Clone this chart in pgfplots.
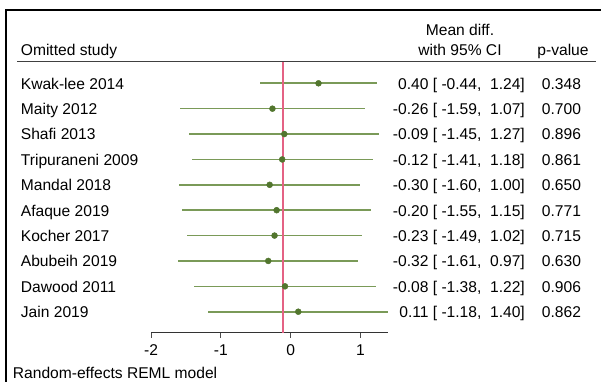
\documentclass[border=0pt]{standalone}
\usepackage{fontspec}
\setmainfont{Liberation Sans}
\usepackage{pgfplots}
\usepackage{pgfplotstable}
\pgfplotsset{compat=1.18}
\definecolor{cigreen}{RGB}{122,154,88}
\definecolor{dotgreen}{RGB}{82,118,46}
\definecolor{reflineRed}{RGB}{228,98,132}
\pgfplotstableread{
row est lo hi
-1 0.40 -0.44 1.24
-2 -0.26 -1.59 1.07
-3 -0.09 -1.45 1.27
-4 -0.12 -1.41 1.18
-5 -0.30 -1.60 1.00
-6 -0.20 -1.55 1.15
-7 -0.23 -1.49 1.02
-8 -0.32 -1.61 0.97
-9 -0.08 -1.38 1.22
-10 0.11 -1.18 1.40
}\data
\begin{document}
\begin{tikzpicture}[font=\fontsize{15.6bp}{18bp}\selectfont]
\useasboundingbox (0,0) rectangle (601bp,-382bp);
% frame
\draw[line width=2bp, black] (6bp,-382bp) -- (6bp,-10bp) -- (601bp,-10bp);
% header rule
\draw[line width=1.3bp, black!75] (17bp,-61.7bp) -- (596bp,-61.7bp);
\begin{axis}[
  at={(151bp,-332.7bp)}, anchor=south west,
  scale only axis, width=237.3bp, height=270.7bp,
  xmin=-2, xmax=1.4, ymin=-10.827, ymax=-0.161,
  axis x line*=bottom, axis y line=none,
  xtick={-2,-1,0,1}, xticklabels={-2,-1,0,1},
  ytick=\empty,
  tick align=outside, major tick length=5bp,
  x axis line style={line width=1.2bp, black!80},
  xtick style={line width=1bp, black!70},
  xticklabel style={anchor=base, inner sep=0pt, yshift=-17.5bp},
  clip=false,
]
\addplot[only marks, mark=none,
  error bars/.cd, x dir=both, x explicit, error mark=none,
  error bar style={line width=1.6bp, color=cigreen}]
  table[x=est, y=row,
    x error plus expr=\thisrow{hi}-\thisrow{est},
    x error minus expr=\thisrow{est}-\thisrow{lo}] {\data};
\addplot[reflineRed, line width=1.3bp] coordinates {(-0.11,-0.161) (-0.11,-10.827)};
\addplot[only marks, mark=*, mark size=3bp, mark options={fill=dotgreen, draw=dotgreen}]
  table[x=est, y=row] {\data};
\end{axis}
% headers
\node[anchor=base west, inner sep=0] at (20.7bp,-55.7bp) {Omitted study};
\node[anchor=base, inner sep=0] at (460bp,-35bp) {Mean diff.};
\node[anchor=base, inner sep=0] at (460bp,-55.5bp) {with 95\% CI};
\node[anchor=base, inner sep=0] at (563bp,-55.5bp) {p-value};
% study labels
\node[anchor=base west, inner sep=0] at (20.7bp,-89.1bp) {Kwak-lee 2014};
\node[anchor=base west, inner sep=0] at (20.7bp,-114.5bp) {Maity 2012};
\node[anchor=base west, inner sep=0] at (20.7bp,-139.9bp) {Shafi 2013};
\node[anchor=base west, inner sep=0] at (20.7bp,-165.2bp) {Tripuraneni 2009};
\node[anchor=base west, inner sep=0] at (20.7bp,-190.6bp) {Mandal 2018};
\node[anchor=base west, inner sep=0] at (20.7bp,-216.0bp) {Afaque 2019};
\node[anchor=base west, inner sep=0] at (20.7bp,-241.4bp) {Kocher 2017};
\node[anchor=base west, inner sep=0] at (20.7bp,-266.8bp) {Abubeih 2019};
\node[anchor=base west, inner sep=0] at (20.7bp,-292.1bp) {Dawood 2011};
\node[anchor=base west, inner sep=0] at (20.7bp,-317.5bp) {Jain 2019};
% estimates
\node[anchor=base east, inner sep=0] at (525bp,-89.1bp) {0.40 [\ -0.44,\ \ 1.24]};
\node[anchor=base east, inner sep=0] at (525bp,-114.5bp) {-0.26 [\ -1.59,\ \ 1.07]};
\node[anchor=base east, inner sep=0] at (525bp,-139.9bp) {-0.09 [\ -1.45,\ \ 1.27]};
\node[anchor=base east, inner sep=0] at (525bp,-165.2bp) {-0.12 [\ -1.41,\ \ 1.18]};
\node[anchor=base east, inner sep=0] at (525bp,-190.6bp) {-0.30 [\ -1.60,\ \ 1.00]};
\node[anchor=base east, inner sep=0] at (525bp,-216.0bp) {-0.20 [\ -1.55,\ \ 1.15]};
\node[anchor=base east, inner sep=0] at (525bp,-241.4bp) {-0.23 [\ -1.49,\ \ 1.02]};
\node[anchor=base east, inner sep=0] at (525bp,-266.8bp) {-0.32 [\ -1.61,\ \ 0.97]};
\node[anchor=base east, inner sep=0] at (525bp,-292.1bp) {-0.08 [\ -1.38,\ \ 1.22]};
\node[anchor=base east, inner sep=0] at (525bp,-317.5bp) {0.11 [\ -1.18,\ \ 1.40]};
% p-values
\node[anchor=base west, inner sep=0] at (541.7bp,-89.1bp) {0.348};
\node[anchor=base west, inner sep=0] at (541.7bp,-114.5bp) {0.700};
\node[anchor=base west, inner sep=0] at (541.7bp,-139.9bp) {0.896};
\node[anchor=base west, inner sep=0] at (541.7bp,-165.2bp) {0.861};
\node[anchor=base west, inner sep=0] at (541.7bp,-190.6bp) {0.650};
\node[anchor=base west, inner sep=0] at (541.7bp,-216.0bp) {0.771};
\node[anchor=base west, inner sep=0] at (541.7bp,-241.4bp) {0.715};
\node[anchor=base west, inner sep=0] at (541.7bp,-266.8bp) {0.630};
\node[anchor=base west, inner sep=0] at (541.7bp,-292.1bp) {0.906};
\node[anchor=base west, inner sep=0] at (541.7bp,-317.5bp) {0.862};
% footer
\node[anchor=base west, inner sep=0] at (12.7bp,-378.3bp) {Random-effects REML model};
\end{tikzpicture}
\end{document}
